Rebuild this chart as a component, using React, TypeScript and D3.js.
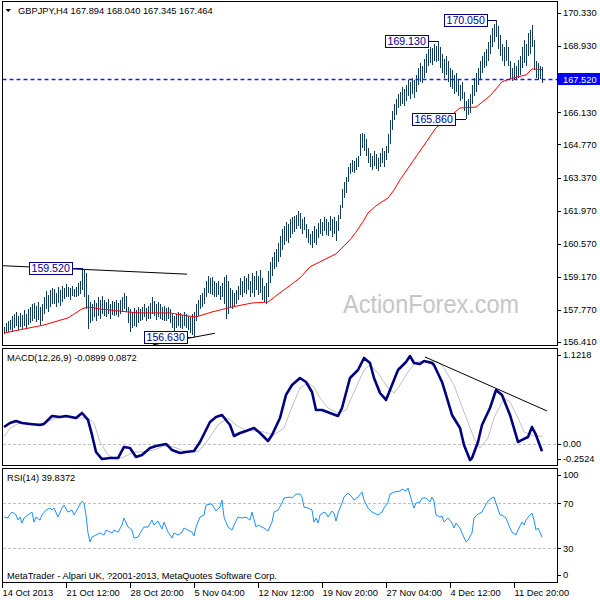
import React from "react";
import * as d3 from "d3";

// ---------- DATA ----------
const symbolTitle = "GBPJPY,H4";
const lastOHLC = ["167.894", "168.040", "167.345", "167.464"];

const highs = [
  157.05,157.2,157.3,157.35,157.5, 157.6,157.7,157.5,157.65,157.55,
  157.75,157.6,157.8,157.9,158.0, 158.05,157.95,158.1,157.9,158.0,
  158.3,158.55,158.4,158.6,158.7, 158.65,158.5,158.75,158.6,158.8,
  158.7,158.85,158.75,158.7,158.8, 158.65,158.75,158.9,159.0,159.52,
  159.45,159.35,158.4,
  158.1,158.0,158.2,158.05,158.3,158.2,158.35,
  158.2,158.1,158.25,158.0,158.15,
  158.1,158.2,158.05,158.2,158.3,158.5,158.35,
  157.9,157.8,157.7,157.85,157.75,157.9,
  157.8,157.9,158.0,157.85,157.95,
  158.05,158.3,158.15,158.0,158.1,
  158.0,157.9,157.95,157.85,157.9,157.8,157.6,
  157.5,157.6,157.7,157.65,157.55,157.7,157.6,157.5,157.45,157.6,157.7,
  158.0,158.2,158.4,158.5,158.7,
  159.0,159.2,159.1,159.15,159.0,
  158.9,159.0,158.8,158.9,159.15,
  159.25,159.0,158.7,158.6,158.5,
  158.6,158.8,159.1,159.0,159.2,
  159.1,159.3,159.0,159.35,159.2,
  159.4,159.2,159.45,159.1,158.8,
  158.9,159.4,159.8,160.0,160.2,
  160.35,160.6,160.9,161.2,161.3,
  161.5,161.4,161.6,161.7,161.75,
  161.8,161.95,161.85,161.6,161.7,
  161.4,161.2,161.0,161.1,161.3,161.2,161.45,
  161.6,161.5,161.7,161.6,161.5,161.75,161.6,161.7,161.55,161.8,
  162.2,162.9,163.2,163.4,
  163.8,164.0,164.1,164.05,164.2,
  164.3,165.2,165.25,165.2,165.0,
  164.6,164.4,164.3,164.5,164.35,164.2,164.4,164.6,164.5,164.7,
  165.2,165.8,166.2,166.5,166.7,166.9,
  167.0,167.2,167.1,167.3,167.5,167.4,167.6,167.5,167.7,
  168.0,168.2,168.1,168.4,168.6,
  168.8,168.9,168.85,169.0,168.95,169.13,
  168.9,168.6,168.4,168.5,168.3,168.0,
  167.9,167.7,167.8,167.5,167.3,167.4,
  167.0,166.6,166.7,166.9,
  167.3,167.6,167.8,
  168.0,168.3,168.5,168.7,168.8,
  169.1,169.4,169.7,169.85,170.05,
  169.8,169.4,169.0,168.9,169.2,168.9,
  168.3,168.0,168.2,168.1,168.35,168.5,
  168.9,169.2,169.0,169.5,169.6,169.82,
  169.2,168.3,168.2,168.1,168.04,
];

const lows = [
  156.75,156.8,156.85,156.9,156.85, 157.0,157.1,156.9,157.05,156.95,
  157.1,157.0,157.15,157.2,157.3, 157.4,157.25,157.35,157.15,157.3,
  157.6,157.8,157.7,157.9,158.0, 158.0,157.9,158.05,157.95,158.1,
  158.25,158.3,158.3,158.2,158.35, 158.3,158.3,158.35,158.45,158.6,
  158.3,157.8,156.95,
  157.2,157.3,157.45,157.3,157.5,157.4,157.6,
  157.5,157.45,157.6,157.4,157.55,
  157.5,157.55,157.45,157.6,157.7,157.8,157.7,
  157.2,156.85,157.0,157.1,157.05,157.2,
  157.3,157.35,157.45,157.3,157.4,
  157.4,157.6,157.5,157.35,157.45,
  157.4,157.35,157.3,157.3,157.4,157.2,157.0,
  156.85,157.0,157.1,157.0,156.95,157.1,157.0,156.9,156.8,156.7,156.63,
  157.3,157.5,157.8,157.9,158.0,
  158.3,158.5,158.45,158.4,158.3,
  158.3,158.4,158.2,158.3,158.0,
  157.4,157.6,157.9,157.8,157.9,
  158.0,158.2,158.4,158.3,158.5,
  158.45,158.6,158.3,158.5,158.3,
  158.6,158.4,158.5,158.2,158.1,
  158.0,158.3,158.9,159.2,159.5,
  159.6,159.8,160.0,160.3,160.5,
  160.7,160.6,160.8,161.0,161.05,
  161.2,161.3,161.2,161.0,161.15,
  160.8,160.6,160.5,160.4,160.6,160.5,160.8,
  161.0,160.9,161.1,160.95,160.9,161.1,160.85,161.0,160.7,161.1,
  161.6,162.1,162.5,162.7,
  163.2,163.5,163.6,163.55,163.7,
  163.8,164.3,164.6,164.5,164.3,
  164.0,163.8,163.7,163.85,163.75,163.65,163.8,164.0,163.8,164.1,
  164.4,164.8,165.4,165.8,166.0,166.3,
  166.4,166.5,166.4,166.6,166.8,166.7,166.9,166.75,167.0,
  167.3,167.4,167.35,167.6,167.8,
  168.1,168.2,168.15,168.3,168.25,168.3,
  168.0,167.8,167.6,167.7,167.4,167.2,
  167.1,166.9,167.0,166.8,166.6,166.7,
  166.2,165.86,166.0,166.1,
  166.5,166.8,167.0,
  167.3,167.5,167.8,168.0,168.1,
  168.3,168.6,168.9,169.1,169.3,
  168.8,168.5,168.3,168.1,168.3,168.1,
  167.6,167.45,167.55,167.5,167.6,167.7,
  168.0,168.2,168.1,168.5,168.6,168.9,
  167.9,167.6,167.5,167.55,167.35,
];

// moving average (red)
const maIdx = [0,20,32,39,42,48,62,68,83,92,96,104,114,124,132,138,148,153,166,173,176,180,182,186,189,192,195,198,216,228,236,243,249,254,261,264,269];
const maVal = [156.79,157.13,157.43,157.81,157.89,157.81,157.68,157.64,157.64,157.51,157.47,157.68,157.89,158.06,158.10,158.49,159.12,159.59,160.14,160.73,161.06,161.57,161.87,162.17,162.34,162.50,162.84,163.27,165.47,166.31,166.35,166.82,167.42,167.57,167.71,167.96,167.94];

// price axis labels
const priceTicks = [170.33,168.93,166.13,164.77,163.37,161.97,160.57,159.17,157.77,156.41];
const bidPrice = 167.52;

// labelled highs/lows
const markIdx = [39, 95, 217, 246, 231];
const markPrice = [159.52, 156.63, 169.13, 170.05, 165.86];

// trend lines [idx, price]
const trendTopIdx = [-1, 91.5];
const trendTopPrice = [159.64, 159.28];
const trendLowIdx = [74.5, 105.5];
const trendLowPrice = [156.29, 156.78];

// MACD(12,26,9)
const macdTitle = "MACD(12,26,9) -0.0899 0.0872";
const macdIdx = [0,3,6,9,13,18,20,24,28,31,36,39,42,44,46,49,53,57,60,63,66,69,73,76,81,84,88,91,95,98,103,106,109,113,115,118,121,125,128,132,134,138,141,144,148,151,154,156,159,163,167,169,173,177,180,183,185,188,191,194,197,201,203,205,208,210,214,215,219,221,224,228,230,233,234,237,239,243,246,249,253,257,259,262,264,266,269];
const macdVal = [0.196,0.243,0.267,0.243,0.232,0.220,0.232,0.326,0.314,0.326,0.302,0.361,0.279,0.102,-0.099,-0.182,-0.170,-0.170,-0.040,-0.052,-0.158,-0.134,-0.052,-0.028,-0.004,-0.075,-0.111,-0.099,-0.087,0.019,0.255,0.314,0.338,0.220,0.090,0.125,0.149,0.184,0.125,0.031,0.102,0.302,0.574,0.691,0.774,0.727,0.609,0.397,0.397,0.361,0.326,0.420,0.774,0.868,1.010,0.951,0.774,0.597,0.515,0.691,0.868,0.963,1.033,0.951,0.939,0.974,0.951,0.927,0.727,0.574,0.338,0.184,-0.016,-0.193,-0.170,0.019,0.220,0.420,0.632,0.574,0.338,0.019,0.043,0.078,0.196,0.102,-0.090];
const signalIdx = [0,3,8,15,20,25,30,36,42,45,48,52,56,60,65,70,75,80,85,90,97,102,107,112,116,120,125,130,135,140,143,148,152,155,158,162,167,171,175,180,183,187,192,195,198,202,206,212,217,220,225,230,235,238,242,245,250,253,257,260,265,269];
const signalVal = [0.078,0.184,0.243,0.232,0.243,0.290,0.314,0.302,0.302,0.243,0.019,-0.134,-0.182,-0.158,-0.099,-0.099,-0.075,-0.028,-0.040,-0.087,-0.099,0.043,0.220,0.302,0.220,0.161,0.149,0.137,0.102,0.184,0.373,0.656,0.715,0.668,0.538,0.420,0.361,0.397,0.609,0.868,0.927,0.833,0.656,0.597,0.691,0.845,0.963,0.974,0.963,0.892,0.691,0.373,0.066,-0.052,0.066,0.302,0.538,0.491,0.302,0.137,0.090,0.087];
const macdTicks = [1.1218, 0, -0.2524];
const macdTickText = ["1.1218", "0.00", "-0.2524"];
const macdTrendIdx = [210.5, 271.5];
const macdTrendVal = [1.022, 0.385];

// RSI(14)
const rsiTitle = "RSI(14) 39.8372";
const rsiIdx = [0,2,3,4,6,7,8,9,10,12,14,15,16,18,19,21,23,24,25,27,29,30,32,34,35,37,39,40,41,42,43,44,46,48,50,51,54,55,57,59,60,62,64,65,67,69,70,72,74,75,77,79,80,82,84,85,87,89,90,92,94,95,96,98,100,101,103,104,106,108,109,110,112,114,115,117,119,121,123,124,126,127,129,130,132,134,135,137,139,140,143,144,146,148,149,150,152,154,155,156,157,158,160,161,162,164,165,166,167,169,170,172,174,175,177,179,180,182,184,187,189,190,192,193,195,198,199,201,202,204,205,206,208,209,211,213,214,215,216,218,219,220,222,224,225,226,228,229,231,232,234,235,237,239,240,242,244,245,246,248,249,251,253,254,256,257,259,260,261,263,264,265,266,267,268,269];
const rsiVal = [57.8,56.9,60.4,62.2,59.6,55.1,57.8,52.4,56.9,59.6,62.2,53.3,57.8,55.1,59.6,64.0,65.8,64.0,65.8,57.8,65.8,68.4,62.2,64.0,59.6,65.8,72.0,70.2,59.6,43.6,35.6,40.0,41.8,43.6,41.8,46.2,43.6,46.2,44.4,50.7,56.9,48.9,46.2,39.1,40.0,46.2,48.9,48.9,55.1,50.7,54.2,47.1,53.3,44.4,39.1,43.6,41.8,44.4,48.0,46.2,44.4,40.9,48.9,57.8,59.6,68.4,69.3,69.3,63.1,66.7,72.9,57.8,48.9,46.2,50.7,57.8,56.9,57.8,55.1,62.2,48.9,50.7,48.9,48.0,45.3,53.3,62.2,64.0,70.2,74.7,75.6,74.7,78.2,78.2,75.6,66.7,65.8,64.0,53.3,56.9,52.4,59.6,62.2,61.3,57.8,63.1,61.3,54.2,61.3,70.2,75.6,79.1,75.6,72.9,75.6,80.0,72.9,65.8,62.2,59.6,62.2,65.8,71.1,78.2,80.0,80.9,82.7,80.9,83.6,71.1,65.8,70.2,71.1,74.7,74.7,71.1,75.6,72.0,59.6,57.8,58.7,53.3,56.9,52.4,48.0,52.4,48.0,43.6,35.6,37.3,43.6,56.9,60.4,62.2,65.8,72.0,74.7,75.6,70.2,59.6,59.6,56.9,48.0,44.4,41.8,46.2,53.3,50.7,55.1,59.6,61.3,55.1,46.2,48.0,44.4,39.84];
const rsiTicks = [100, 70, 30, 0];
const rsiLevels = [70, 30];

// time axis
const dateIdx = [0, 32, 64, 96, 128, 160, 192, 224, 256];
const dateText = ["14 Oct 2013","21 Oct 12:00","28 Oct 20:00","5 Nov 04:00","12 Nov 12:00","19 Nov 20:00","27 Nov 04:00","4 Dec 12:00","11 Dec 20:00"];

const footerText = "MetaTrader - Alpari UK, ?2001-2013, MetaQuotes Software Corp.";
const watermark = "ActionForex.com";

// ---------- CHART ----------
const FONT = '"Liberation Sans", Arial, sans-serif';
const BAR = "#133c5c";

export default function App() {
  const left = 2.5, right = 557.5;
  const main = { top: 1.5, bottom: 345.5 };
  const macdP = { top: 348.5, bottom: 465.5 };
  const rsiP = { top: 468.5, bottom: 582.5 };

  const x = d3.scaleLinear().domain([0, 269]).range([4, 542]);
  const yP = d3.scaleLinear().domain([156.41, 170.33]).range([342, 13]);
  const yM = d3.scaleLinear().domain([-0.2524, 1.1218]).range([465, 348.5]);
  const yR = d3.scaleLinear().domain([0, 100]).range([582, 469.6]);

  const pairLine = (idx: number[], y: (v: number) => number) =>
    d3.line<number>().x((_, k) => x(idx[k])).y((d) => y(d));

  const maPath = pairLine(maIdx, yP)(maVal) || "";
  const macdPath = pairLine(macdIdx, yM)(macdVal) || "";
  const sigPath = pairLine(signalIdx, yM)(signalVal) || "";
  const rsiPath = pairLine(rsiIdx, yR)(rsiVal) || "";

  const boxGap = [10, 7, 10, 9, 11];
  const boxW = 43, boxH = 12;

  const axisText = { fontFamily: FONT, fontSize: 9.3, fill: "#000" } as const;
  const macdOff = [6.5, 0, -6];
  const rsiOff = [5.5, 0, 0, -7];
  const bidY = Math.round(yP(bidPrice)) + 0.5;

  return (
    <svg width={600} height={600} style={{ position: "absolute", left: 0, top: 0, background: "#fff" }}>
      <defs>
        <clipPath id="cMain"><rect x={left} y={main.top} width={right - left} height={main.bottom - main.top} /></clipPath>
        <clipPath id="cMacd"><rect x={left} y={macdP.top} width={right - left} height={macdP.bottom - macdP.top} /></clipPath>
        <clipPath id="cRsi"><rect x={left} y={rsiP.top} width={right - left} height={rsiP.bottom - rsiP.top} /></clipPath>
      </defs>
      <rect x={0} y={0} width={600} height={600} fill="#fff" />

      {/* ---------- main panel ---------- */}
      <g clipPath="url(#cMain)">
        <text x={343} y={313} fontFamily={FONT} fontSize={25} fill="#c6c6c6" textLength={176} lengthAdjust="spacingAndGlyphs">{watermark}</text>
        {highs.map((h, i) => (
          <line key={i} x1={Math.round(x(i)) + 0.5} x2={Math.round(x(i)) + 0.5} y1={yP(h)} y2={yP(lows[i])} stroke={BAR} strokeWidth={1} shapeRendering="crispEdges" />
        ))}
        <path d={maPath} fill="none" stroke="#ff0000" strokeWidth={1} />
        <line x1={left} x2={right} y1={bidY} y2={bidY} stroke="#1a1aff" strokeWidth={1.3} strokeDasharray="4,3" />
        <line x1={x(trendTopIdx[0])} y1={yP(trendTopPrice[0])} x2={x(trendTopIdx[1])} y2={yP(trendTopPrice[1])} stroke="#000" strokeWidth={1} />
        <line x1={x(trendLowIdx[0])} y1={yP(trendLowPrice[0])} x2={x(trendLowIdx[1])} y2={yP(trendLowPrice[1])} stroke="#000" strokeWidth={1} />
        {markIdx.map((mi, k) => {
          const bx = x(mi) - boxGap[k];
          const py = yP(markPrice[k]);
          return (
            <g key={k}>
              <line x1={bx} x2={x(mi)} y1={Math.round(py) + 0.5} y2={Math.round(py) + 0.5} stroke="#000080" strokeWidth={1} shapeRendering="crispEdges" />
              <rect x={Math.round(bx - boxW) + 0.5} y={Math.round(py - boxH / 2) + 0.5} width={boxW} height={boxH} fill="#fff" stroke="#000080" strokeWidth={1} shapeRendering="crispEdges" />
              <text x={bx - boxW + 2.5} y={py + 4} fontFamily={FONT} fontSize={10.6} fill="#00008b">{markPrice[k].toFixed(3)}</text>
            </g>
          );
        })}
      </g>
      <rect x={left} y={main.top} width={right - left} height={main.bottom - main.top} fill="none" stroke="#000" strokeWidth={1} shapeRendering="crispEdges" />
      <path d="M5.5,9 L11,9 L8.25,12 Z" fill="#000" />
      <text x={18} y={14} {...axisText}>{symbolTitle + "  " + lastOHLC.join(" ")}</text>
      {priceTicks.map((p, k) => (
        <g key={k}>
          <line x1={right} x2={561} y1={Math.round(yP(p)) + 0.5} y2={Math.round(yP(p)) + 0.5} stroke="#000" shapeRendering="crispEdges" />
          <text x={563} y={yP(p) + 3.3} {...axisText}>{p.toFixed(3)}</text>
        </g>
      ))}
      <rect x={558} y={Math.round(yP(bidPrice)) - 6} width={42} height={12} fill="#0000ff" />
      <text x={563} y={yP(bidPrice) + 3.5} {...axisText} fill="#fff">{bidPrice.toFixed(3)}</text>

      {/* ---------- MACD panel ---------- */}
      <g clipPath="url(#cMacd)">
        <line x1={left} x2={right} y1={Math.round(yM(0)) + 0.5} y2={Math.round(yM(0)) + 0.5} stroke="#c0c0c0" strokeDasharray="3,2" shapeRendering="crispEdges" />
        <path d={sigPath} fill="none" stroke="#c0c0c0" strokeWidth={1} />
        <path d={macdPath} fill="none" stroke="#000080" strokeWidth={2.6} strokeLinejoin="round" />
        <line x1={x(macdTrendIdx[0])} y1={yM(macdTrendVal[0])} x2={x(macdTrendIdx[1])} y2={yM(macdTrendVal[1])} stroke="#000" strokeWidth={1} />
      </g>
      <rect x={left} y={macdP.top} width={right - left} height={macdP.bottom - macdP.top} fill="none" stroke="#000" strokeWidth={1} shapeRendering="crispEdges" />
      <text x={7} y={361} {...axisText}>{macdTitle}</text>
      {macdTicks.map((v, k) => (
        <g key={k}>
          <line x1={right} x2={561} y1={Math.round(yM(v) + macdOff[k]) + 0.5} y2={Math.round(yM(v) + macdOff[k]) + 0.5} stroke="#000" shapeRendering="crispEdges" />
          <text x={563} y={yM(v) + macdOff[k] + 3.3} {...axisText}>{macdTickText[k]}</text>
        </g>
      ))}

      {/* ---------- RSI panel ---------- */}
      <g clipPath="url(#cRsi)">
        {rsiLevels.map((lv) => (
          <line key={lv} x1={left} x2={right} y1={Math.round(yR(lv)) + 0.5} y2={Math.round(yR(lv)) + 0.5} stroke="#c0c0c0" strokeDasharray="3,2" shapeRendering="crispEdges" />
        ))}
        <path d={rsiPath} fill="none" stroke="#1e90ff" strokeWidth={1} />
      </g>
      <rect x={left} y={rsiP.top} width={right - left} height={rsiP.bottom - rsiP.top} fill="none" stroke="#000" strokeWidth={1} shapeRendering="crispEdges" />
      <text x={7} y={481} {...axisText}>{rsiTitle}</text>
      <text x={7} y={578.5} {...axisText}>{footerText}</text>
      {rsiTicks.map((v, k) => (
        <g key={k}>
          <line x1={right} x2={561} y1={Math.round(yR(v) + rsiOff[k]) + 0.5} y2={Math.round(yR(v) + rsiOff[k]) + 0.5} stroke="#000" shapeRendering="crispEdges" />
          <text x={563} y={yR(v) + rsiOff[k] + 3.3} {...axisText}>{String(v)}</text>
        </g>
      ))}

      {/* ---------- time axis ---------- */}
      {dateIdx.map((di, k) => {
        const tx = Math.round(x(di)) - 1.5;
        return (
          <g key={k}>
            <line x1={tx} x2={tx} y1={rsiP.bottom} y2={588} stroke="#000" shapeRendering="crispEdges" />
            <text x={tx} y={596} {...axisText}>{dateText[k]}</text>
          </g>
        );
      })}
    </svg>
  );
}
